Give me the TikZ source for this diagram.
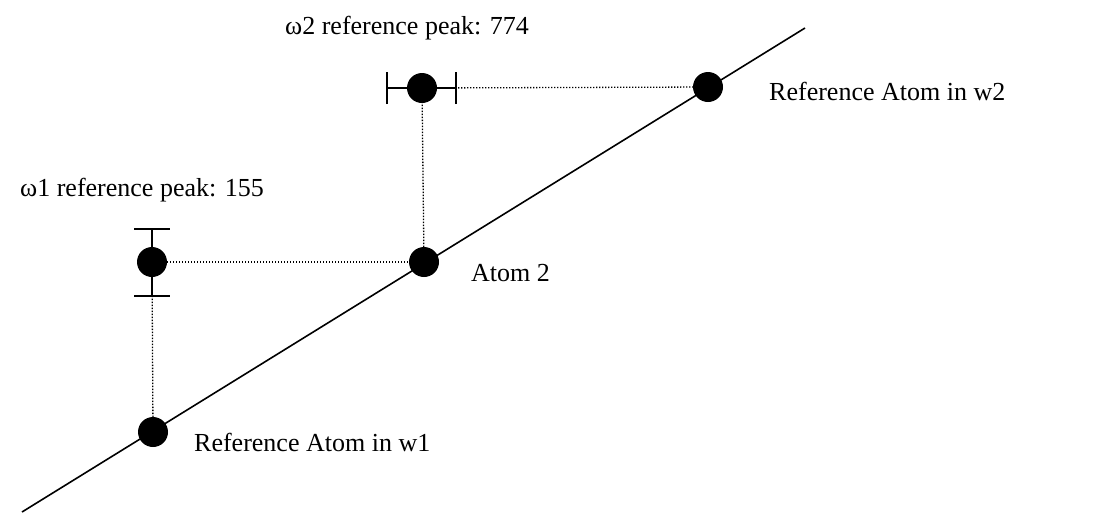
\documentclass[tikz,border=0pt]{standalone}
\usepackage{fontspec}
\setmainfont{Liberation Serif}
\begin{document}
\begin{tikzpicture}[x=1pt,y=-1pt,
  dot/.style={circle,fill=black,inner sep=0pt,minimum size=30pt},
  guide/.style={line width=1.3pt,dash pattern=on 1.3pt off 1.7pt},
  errbar/.style={line width=1.8pt},
  axisline/.style={line width=1.6pt},
  lbl/.style={anchor=base west,inner sep=0pt,font=\fontsize{26}{30}\selectfont}]
\useasboundingbox (0,0) rectangle (1108,512);
\coordinate (lstart) at (22,512);
\coordinate (lend) at (805,28);
\draw[axisline] (lstart) -- (lend);
% guide lines
\coordinate (r1) at (153,432);
\coordinate (a2) at (424,262);
\coordinate (r2) at (708,87);
\coordinate (p1) at (152,262);
\coordinate (p2) at (422,88);
\draw[guide] (r1) -- (p1);
\draw[guide] (p1) -- (a2);
\draw[guide] (a2) -- (p2);
\draw[guide] (p2) -- (r2);
% error bars
\coordinate (e1t) at (152,229);
\coordinate (e1b) at (152,296);
\draw[errbar] (e1t) -- (e1b);
\draw[errbar] ([xshift=-18pt]e1t) -- ([xshift=18pt]e1t);
\draw[errbar] ([xshift=-18pt]e1b) -- ([xshift=18pt]e1b);
\coordinate (e2l) at (387,88);
\coordinate (e2r) at (456,88);
\draw[errbar] (e2l) -- (e2r);
\draw[errbar] ([yshift=-16pt]e2l) -- ([yshift=16pt]e2l);
\draw[errbar] ([yshift=-16pt]e2r) -- ([yshift=16pt]e2r);
% dots
\node[dot] (R1) at (r1) {};
\node[dot] (A2) at (a2) {};
\node[dot] (R2) at (r2) {};
\node[dot] (P1) at (p1) {};
\node[dot] (P2) at (p2) {};
% labels
\node[lbl] (t2) at (285,34) {ω2 reference peak: 774};
\node[lbl] (t1) at (20,196) {ω1 reference peak: 155};
\node[lbl] (ta2) at (471,281) {Atom 2};
\node[lbl] (tr1) at (194,451) {Reference Atom in w1};
\node[lbl] (tr2) at (769,100) {Reference Atom in w2};
\end{tikzpicture}
\end{document}
